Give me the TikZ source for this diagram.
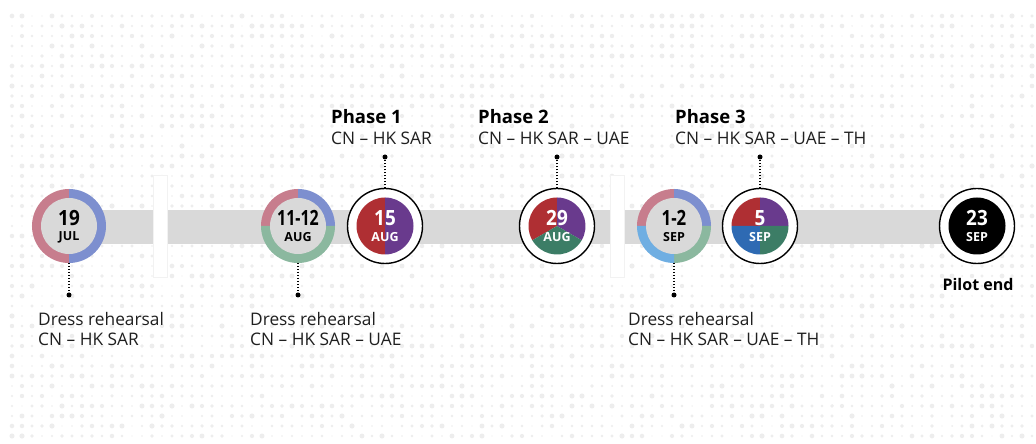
\documentclass[tikz,border=0pt]{standalone}
\usepackage{fontspec}
\setmainfont{Open Sans}
\definecolor{ringpink}{HTML}{C77D8D}
\definecolor{ringblue}{HTML}{7D8FCF}
\definecolor{ringgreen}{HTML}{8BB89F}
\definecolor{ringlblue}{HTML}{6FAEE2}
\definecolor{phred}{HTML}{AF2F33}
\definecolor{phpurple}{HTML}{693A8D}
\definecolor{phgreen}{HTML}{3C7D66}
\definecolor{phblue}{HTML}{2E6AB3}
\definecolor{bargray}{HTML}{D9D9D9}
\definecolor{dotgray}{HTML}{EDEDED}
\newcommand\piece[5]{\fill[#5] (#1) -- ++(#2:#4) arc[start angle=#2,end angle=#3,radius=#4] -- cycle;}
\newcommand\narrow[2][0.9]{\scalebox{#1}[1]{#2}}
\tikzset{
  daynum/.style={font=\bfseries\fontsize{21}{21}\selectfont, inner sep=0pt},
  monthtxt/.style={font=\bfseries\fontsize{12.5}{12.5}\selectfont, inner sep=0pt},
  headtxt/.style={font=\bfseries\fontsize{18.5}{18.5}\selectfont, inner sep=0pt, anchor=base west},
  subtxt/.style={font=\fontsize{17.3}{17.3}\selectfont, inner sep=0pt, anchor=base west, text=black!88},
  connector/.style={line width=1.3pt, dash pattern=on 1.3pt off 1.7pt},
  enddot/.style={circle, fill=black, inner sep=0pt, minimum size=5pt},
  phasering/.style={draw=black, line width=1.4pt, fill=white},
  breakbox/.style={draw=black!5, fill=white, line width=0.6pt}
}
\begin{document}
\begin{tikzpicture}[x=1pt,y=1pt]
\useasboundingbox[fill=white] (0,0) rectangle (1036,444);
% background dot pattern
\pgfmathsetseed{7}
\foreach \i in {0,...,102}{
  \foreach \j in {0,...,42}{
    \pgfmathsetmacro{\rr}{0.6+2.0*rnd}
    \fill[dotgray] (12+10*\i, 428-10*\j) circle[radius=\rr];
  }
}
% bar
\fill[bargray] (40,200) rectangle (960,234);
\draw[breakbox] (153,167) rectangle (167,269);
\draw[breakbox] (610,167) rectangle (624,269);
% centres
\coordinate (c1) at (69,218);
\coordinate (c2) at (298,218);
\coordinate (c3) at (385,218);
\coordinate (c4) at (557,218);
\coordinate (c5) at (674,218);
\coordinate (c6) at (760,218);
\coordinate (c7) at (977,218);
% dress rehearsal circles
\piece{c1}{90}{270}{37}{ringpink}
\piece{c1}{-90}{90}{37}{ringblue}
\fill[bargray] (c1) circle[radius=28];
\piece{c2}{90}{180}{37}{ringpink}
\piece{c2}{0}{90}{37}{ringblue}
\piece{c2}{180}{360}{37}{ringgreen}
\fill[bargray] (c2) circle[radius=28];
\piece{c5}{90}{180}{37}{ringpink}
\piece{c5}{0}{90}{37}{ringblue}
\piece{c5}{270}{360}{37}{ringgreen}
\piece{c5}{180}{270}{37}{ringlblue}
\fill[bargray] (c5) circle[radius=28];
% phase circles
\fill[phasering] (c3) circle[radius=37.5];
\piece{c3}{90}{270}{28.5}{phred}
\piece{c3}{-90}{90}{28.5}{phpurple}
\fill[phasering] (c4) circle[radius=37.5];
\piece{c4}{90}{210}{28.5}{phred}
\piece{c4}{-30}{90}{28.5}{phpurple}
\piece{c4}{210}{330}{28.5}{phgreen}
\fill[phasering] (c6) circle[radius=37.5];
\piece{c6}{90}{180}{28.5}{phred}
\piece{c6}{0}{90}{28.5}{phpurple}
\piece{c6}{180}{270}{28.5}{phblue}
\piece{c6}{270}{360}{28.5}{phgreen}
\fill[phasering] (c7) circle[radius=37.5];
\fill[black] (c7) circle[radius=28.5];
% date labels
\node[daynum] (d1) at ([yshift=8]c1) {\narrow{19}};
\node[monthtxt] (m1) at ([yshift=-11]c1) {JUL};
\node[daynum] (d2) at ([yshift=8]c2) {\narrow[0.76]{11-12}};
\node[monthtxt] (m2) at ([yshift=-11]c2) {AUG};
\node[daynum, text=white] (d3) at ([yshift=8]c3) {\narrow{15}};
\node[monthtxt, text=white] (m3) at ([yshift=-11]c3) {AUG};
\node[daynum, text=white] (d4) at ([yshift=8]c4) {\narrow{29}};
\node[monthtxt, text=white] (m4) at ([yshift=-11]c4) {AUG};
\node[daynum] (d5) at ([yshift=8]c5) {\narrow[0.8]{1-2}};
\node[monthtxt] (m5) at ([yshift=-11]c5) {SEP};
\node[daynum, text=white] (d6) at ([yshift=8]c6) {\narrow{5}};
\node[monthtxt, text=white] (m6) at ([yshift=-11]c6) {SEP};
\node[daynum, text=white] (d7) at ([yshift=8]c7) {\narrow{23}};
\node[monthtxt, text=white] (m7) at ([yshift=-11]c7) {SEP};
% connector end dots
\node[enddot] (p1) at (69,149) {};
\node[enddot] (p2) at (298,149) {};
\node[enddot] (p5) at (674,149) {};
\node[enddot] (p3) at (385,287) {};
\node[enddot] (p4) at (557,287) {};
\node[enddot] (p6) at (760,287) {};
\coordinate (b1) at ([yshift=-37]c1);
\coordinate (b2) at ([yshift=-37]c2);
\coordinate (b5) at ([yshift=-37]c5);
\coordinate (t3) at ([yshift=37.5]c3);
\coordinate (t4) at ([yshift=37.5]c4);
\coordinate (t6) at ([yshift=37.5]c6);
\draw[connector] (b1) -- (p1);
\draw[connector] (b2) -- (p2);
\draw[connector] (b5) -- (p5);
\draw[connector] (t3) -- (p3);
\draw[connector] (t4) -- (p4);
\draw[connector] (t6) -- (p6);
% texts
\node[headtxt] (h1) at (331,320) {Phase 1};
\node[subtxt] (s1) at (331,299) {CN – HK SAR};
\node[headtxt] (h2) at (478,320) {Phase 2};
\node[subtxt] (s2) at (478,299) {CN – HK SAR – UAE};
\node[headtxt] (h3) at (675,320) {Phase 3};
\node[subtxt] (s3) at (675,299) {CN – HK SAR – UAE – TH};
\node[subtxt] (r1a) at (38,118) {Dress rehearsal};
\node[subtxt] (r1b) at (38,98) {CN – HK SAR};
\node[subtxt] (r2a) at (250,118) {Dress rehearsal};
\node[subtxt] (r2b) at (250,98) {CN – HK SAR – UAE};
\node[subtxt] (r3a) at (628,118) {Dress rehearsal};
\node[subtxt] (r3b) at (628,98) {CN – HK SAR – UAE – TH};
\node[font=\bfseries\fontsize{16}{16}\selectfont, inner sep=0pt, anchor=base] (pe) at (978,153) {Pilot end};
\end{tikzpicture}
\end{document}
